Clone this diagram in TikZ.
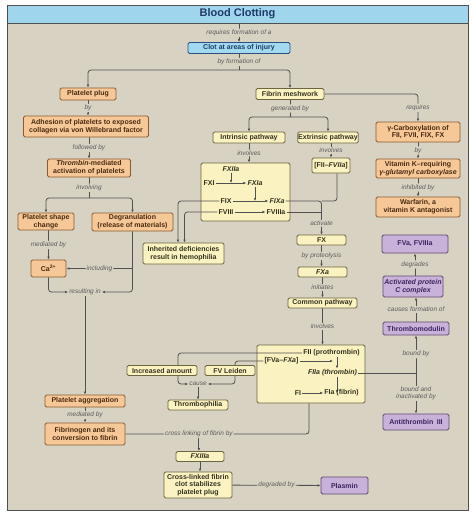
\documentclass[tikz,border=0pt]{standalone}
\usepackage{fontspec}
\setmainfont{Liberation Sans}
\usetikzlibrary{arrows.meta,backgrounds}

\definecolor{panelbg}{HTML}{D8D2C3}
\definecolor{titlebg}{HTML}{9FD6EE}
\definecolor{titletext}{HTML}{1E3A66}
\definecolor{orangefill}{HTML}{F6C898}
\definecolor{orangeline}{HTML}{8A5A30}
\definecolor{orangetext}{HTML}{4A2A10}
\definecolor{yellowfill}{HTML}{FBF2C2}
\definecolor{yellowline}{HTML}{6A6640}
\definecolor{yellowtext}{HTML}{33321C}
\definecolor{purplefill}{HTML}{C9B2D9}
\definecolor{purpleline}{HTML}{5E4A70}
\definecolor{purpletext}{HTML}{3A2560}
\definecolor{bluefill}{HTML}{A2DAF2}
\definecolor{blueline}{HTML}{2D4E7E}
\definecolor{linkgray}{HTML}{505050}
\definecolor{labelgray}{HTML}{5C5C5C}

\begin{document}
\begin{tikzpicture}[
    x=1pt, y=-1pt,
    >={Latex[length=3pt,width=2.6pt]},
    wh/.style 2 args={minimum width=#1, minimum height=#2},
    box/.style={
        draw,
        rounded corners=1.5pt,
        line width=0.9pt,
        align=center,
        inner sep=0.5pt,
        font=\bfseries\fontsize{7}{7.8}\selectfont
    },
    obox/.style={box, fill=orangefill, draw=orangeline, text=orangetext},
    ybox/.style={box, fill=yellowfill, draw=yellowline, text=yellowtext},
    pbox/.style={box, fill=purplefill, draw=purpleline, text=purpletext},
    cbox/.style={box, fill=bluefill, draw=blueline, text=titletext},
    itbox/.style={font=\bfseries\itshape\fontsize{7}{7.8}\selectfont},
    item/.style={inner sep=1pt, text=yellowtext, font=\bfseries\fontsize{7}{7.8}\selectfont},
    lbl/.style={
        fill=panelbg,
        inner sep=1pt,
        align=center,
        text=labelgray,
        font=\itshape\fontsize{6.5}{7}\selectfont
    },
    link/.style={draw=linkgray, line width=0.8pt, rounded corners=3pt}
]
    \useasboundingbox (0,0) rectangle (474,517);

    % Panel and the two large boxes
    \begin{scope}[on background layer]
        \draw[draw=linkgray, fill=panelbg, line width=0.8pt] (7,5) rectangle (468,510);
        \node[ybox, wh={89}{58}] (intbox) at (245.5,192) {};
        \node[ybox, wh={108}{58}] (thrbox) at (311,374) {};
    \end{scope}

    % Title
    \node[draw=linkgray, fill=titlebg, line width=0.8pt, wh={461}{18}, text=titletext,
          font=\bfseries\fontsize{11}{12}\selectfont] (title) at (237.5,14) {Blood Clotting};
    \node[cbox, wh={102}{11}] (clot) at (239,48) {Clot at areas of injury};

    % Left column
    \node[obox, wh={56}{12}] (pplug) at (88,94) {Platelet plug};
    \node[obox, wh={125}{21}] (adhesion) at (86,126.5) {Adhesion of platelets to exposed\\collagen via von Willebrand factor};
    \node[obox, wh={83}{18}] (activation) at (89,168) {\textit{Thrombin}-mediated\\activation of platelets};
    \node[obox, wh={56}{17}] (shape) at (46,221.5) {Platelet shape\\change};
    \node[obox, wh={81}{18}] (degran) at (132.5,222) {Degranulation\\(release of materials)};
    \node[obox, wh={35}{17}] (calcium) at (48.5,268.5) {Ca\textsuperscript{2+}};
    \node[lbl] (result) at (85,292) {resulting in};
    \node[obox, wh={80}{12}] (aggreg) at (85,401) {Platelet aggregation};
    \node[obox, wh={80}{22}] (fibrinogen) at (85,434) {Fibrinogen and its\\conversion to fibrin};

    % Middle column
    \node[ybox, wh={68}{11}] (meshwork) at (290,94) {Fibrin meshwork};
    \node[ybox, wh={72}{11}] (intrinsic) at (249,137.5) {Intrinsic pathway};
    \node[ybox, wh={60}{11}] (extrinsic) at (328,137.5) {Extrinsic pathway};
    \node[item] (fxiia) at (231,169) {\textit{FXIIa}};
    \node[item] (fxi) at (209,183) {FXI};
    \node[item] (fxia) at (255,183) {\textit{FXIa}};
    \node[item] (fix) at (226,201) {FIX};
    \node[item] (fixa) at (277,201) {\textit{FIXa}};
    \node[item] (fviii) at (226,212) {FVIII};
    \node[item] (fviiia) at (276,212) {FVIIIa};
    \node[ybox, wh={38}{15}] (tissue) at (331,165.5) {[FII–\textit{FVIIa}]};
    \node[ybox, wh={81}{21}] (hemophilia) at (183.5,253.5) {Inherited deficiencies\\result in hemophilia};
    \node[ybox, wh={49}{10}] (fx) at (321.5,240) {FX};
    \node[ybox, wh={49}{10}] (fxa) at (322.5,272) {\textit{FXa}};
    \node[ybox, wh={69}{10}] (common) at (322.5,303) {Common pathway};
    \node[item] (fii) at (331.5,353) {FII (prothrombin)};
    \node[item] (fvafxa) at (281.5,361) {[FVa–\textit{FXa}]};
    \node[item] (fiia) at (332.5,373) {\textit{FIIa (thrombin)}};
    \node[item] (fi) at (298,393) {FI};
    \node[item] (fia) at (341.5,393) {FIa (fibrin)};
    \node[ybox, wh={70}{10}] (increased) at (162,370.5) {Increased amount};
    \node[ybox, wh={50}{10}] (leiden) at (230,370.5) {FV Leiden};
    \node[lbl] (cause) at (198,384) {cause};
    \node[ybox, wh={60}{10}] (thrombophilia) at (198,405) {Thrombophilia};
    \node[ybox, wh={48}{10}] (fxiiia) at (200,456.5) {\textit{FXIIIa}};
    \node[ybox, wh={68}{26}] (crosslinked) at (198,485) {Cross-linked fibrin\\clot stabilizes\\platelet plug};
    \node[pbox, wh={47}{17}] (plasmin) at (344.5,485.5) {Plasmin};

    % Right column
    \node[obox, wh={84}{20}] (carbox) at (418,132) {γ-Carboxylation of\\FII, FVII, FIX, FX};
    \node[obox, wh={84}{19}] (vitk) at (418,168.5) {Vitamin K–requiring\\\textit{γ-glutamyl carboxylase}};
    \node[obox, wh={84}{20}] (warfarin) at (418,207) {Warfarin, a\\vitamin K antagonist};
    \node[pbox, wh={66}{18}] (fva) at (415,244) {FVa, FVIIIa};
    \node[pbox, itbox, wh={60}{21}] (apc) at (413,286.5) {Activated protein\\C complex};
    \node[pbox, wh={66}{13}] (thrombomodulin) at (416,328.5) {Thrombomodulin};
    \node[pbox, wh={66}{16}] (antithrombin) at (416,422) {Antithrombin\enspace III};

    % Connectors
    \begin{scope}[on background layer]
        \coordinate (split1) at (239,70);
        \coordinate (split2) at (89,198);
        \coordinate (split3) at (290,117);
        \coordinate (thraxis) at (337,353);
        \coordinate (incrdrop) at (178,384);
        \coordinate (leidendrop) at (235,384);
        \coordinate (activjoin) at (fx.north |- fviiia);
        \coordinate (bindjoin) at (thrombomodulin |- fiia);

        \draw[link,->] (clot |- title.south) -- node[lbl]{requires formation of a} (clot);
        \draw[link] (clot) -- node[lbl]{by formation of} (split1);
        \draw[link,->] (split1) -| (pplug);
        \draw[link,->] (split1) -| (meshwork);

        \draw[link,->] (pplug) -- node[lbl]{by} (pplug |- adhesion.north);
        \draw[link,->] (adhesion.south -| activation) -- node[lbl]{followed by} (activation);
        \draw[link] (activation) -- node[lbl]{involving} (split2);
        \draw[link,->] (split2) -| (shape);
        \draw[link,->] (split2) -| (degran);
        \draw[link,->] (shape.south -| calcium) -- node[lbl]{mediated by} (calcium);
        \draw[link,->] (degran) |- (result.east);
        \draw[link,->] (degran.south |- calcium) -- node[lbl]{including} (calcium);
        \draw[link,->] (calcium) |- (result.west);
        \draw[link,->] (result) -- (aggreg);
        \draw[link,->] (aggreg) -- node[lbl]{mediated by} (fibrinogen);

        \draw[link] (meshwork) -- node[lbl]{generated by} (split3);
        \draw[link,->] (split3) -| (intrinsic);
        \draw[link,->] (split3) -| (extrinsic);
        \draw[link,->] (meshwork) -| node[lbl,pos=0.75]{requires} (carbox);
        \draw[link,->] (intrinsic) -- node[lbl]{involves} (intrinsic |- intbox.north);
        \draw[link,->] (extrinsic.south -| tissue) -- node[lbl]{involves} (tissue);
        \draw[link,->] (carbox) -- node[lbl]{by} (vitk);
        \draw[link,->] (vitk) -- node[lbl]{inhibited by} (warfarin);

        \draw[link,->] (fxi) -- (fxia);
        \draw[link,->] (fxiia) -- (fxiia |- fxi);
        \draw[link,->] (fxia) -- (fxia |- fix);
        \draw[link,->] (fix) -- (fixa);
        \draw[link,->] (fviii) -- (fviiia);
        \draw[link,->] (fix) -| ([xshift=-5.5pt]hemophilia.north);
        \draw[link,->] (fviii) -| ([xshift=1pt]hemophilia.north);
        \draw[link] (fixa) -| (activjoin);
        \draw[link] (fviiia) -- (activjoin);
        \draw[link] ([xshift=6pt]tissue.south) |- (fx.north |- fixa);
        \draw[link,->] (activjoin) -- node[lbl]{activate} (fx);
        \draw[link,->] (fx) -- node[lbl]{by proteolysis} (fx |- fxa.north);
        \draw[link,->] (fxa) -- node[lbl]{initiates} (common);
        \draw[link,->] (common) -- node[lbl]{involves} (common |- thrbox.north);

        \draw[link,->] (thraxis |- fii.south) -- (thraxis |- fiia.north);
        \draw[link,->] (thraxis |- fiia.south) -- (thraxis |- fi);
        \draw[link,->] (fvafxa) -- ([xshift=-4pt]thraxis |- fvafxa);
        \draw[link,->] (fi) -- (fia);
        \draw[link,->] (fii.west) -| (incrdrop) -- (cause.west);
        \draw[link,->] (fvafxa) -| (leidendrop) -- (cause.east);
        \draw[link,->] (cause) -- (thrombophilia);

        \draw[link] (fiia) -- (bindjoin);
        \draw[link,->] (bindjoin) -- node[lbl]{bound by} (thrombomodulin);
        \draw[link,->] (bindjoin) -- node[lbl]{bound and\\inactivated by} (antithrombin);
        \draw[link,->] (thrombomodulin) -- node[lbl]{causes formation of} (thrombomodulin |- apc.south);
        \draw[link,->] (apc.north -| fva) -- node[lbl]{degrades} (fva);

        \draw[link] ([xshift=-2pt]thrbox.south) |- node[lbl,pos=0.8] (xlink) {cross linking of fibrin by} (fibrinogen);
        \draw[link,->] (xlink.south) -- (xlink.south |- fxiiia.north);
        \draw[link,->] (fxiiia) -- (fxiiia |- crosslinked.north);
        \draw[link,->] (crosslinked) -- node[lbl]{degraded by} (plasmin);
    \end{scope}
\end{tikzpicture}
\end{document}
